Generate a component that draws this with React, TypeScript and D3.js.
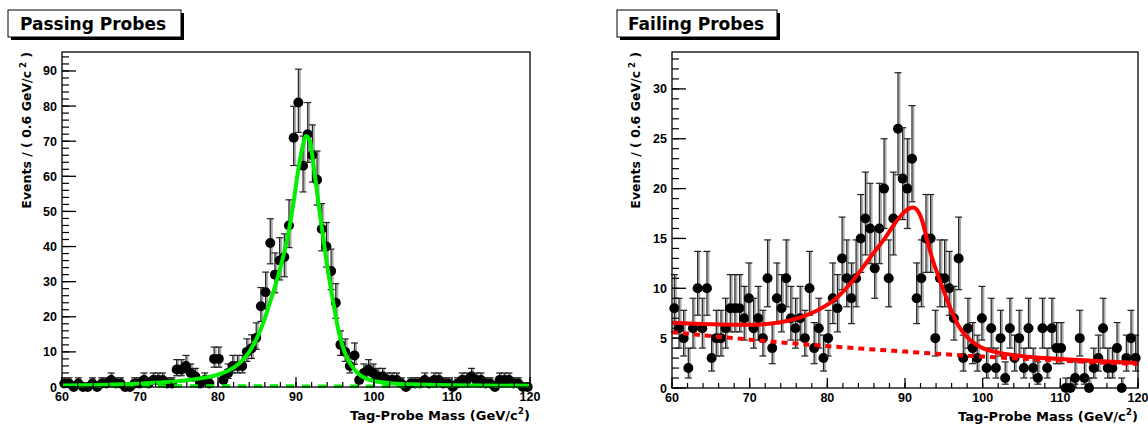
import React from 'react'
import * as d3 from 'd3'

// binning of both histograms: 100 bins of 0.6 GeV from 60 to 120
const binLo = 60
const binWidth = 0.6

// events per bin, passing probes
const passCounts = [
  1, 1, 0, 1, 0, 0, 1, 0, 1, 1,
  2, 1, 1, 0, 0, 1, 1, 2, 1, 2,
  2, 2, 1, 1, 5, 5, 6, 4, 3, 1,
  2, 1, 8, 8, 2, 4, 6, 6, 6, 10,
  11, 14, 23, 27, 41, 32, 36, 37, 46, 71,
  81, 63, 72, 66, 59, 45, 40, 33, 24, 12,
  10, 6, 9, 2, 4, 5, 4, 3, 3, 2,
  2, 2, 1, 0, 1, 1, 1, 2, 1, 2,
  2, 1, 1, 0, 1, 2, 2, 3, 2, 2,
  1, 1, 0, 2, 2, 2, 1, 1, 0, 0,
]

// events per bin, failing probes
const failCounts = [
  8, 6, 5, 2, 6, 10, 6, 10, 3, 5,
  5, 6, 8, 8, 8, 7, 9, 6, 7, 5,
  11, 4, 9, 8, 11, 7, 6, 7, 5, 10,
  4, 6, 3, 5, 9, 8, 13, 11, 9, 11,
  15, 17, 16, 12, 16, 20, 11, 17, 26, 21,
  20, 23, 9, 11, 15, 15, 5, 11, 11, 10,
  7, 13, 3, 6, 4, 3, 7, 2, 6, 2,
  5, 1, 6, 3, 5, 2, 6, 2, 1, 6,
  2, 6, 4, 4, 0, 0, 1, 5, 1, 0,
  2, 3, 6, 2, 2, 4, 0, 3, 5, 3,
]

// fitted curves: [mass, events]
const passFit: [number, number][] = [
  [60, 0.4], [65, 0.6], [70, 1.0], [74, 1.5], [77, 2.2], [80, 3.5], [82, 5.5],
  [83, 7.3], [84, 10], [85, 14], [86, 19.5], [86.5, 23], [87.5, 30], [88.4, 37.5],
  [89, 43.5], [89.65, 52], [90.3, 62], [90.8, 68], [91.3, 71.5], [91.8, 70],
  [92.2, 64], [92.9, 52], [93.4, 44], [93.9, 36], [94.4, 29], [94.9, 22.5],
  [95.5, 15.5], [96, 11.5], [96.5, 8.5], [97.5, 5], [98.2, 3.4], [99, 2.4],
  [100, 1.7], [102, 1.1], [105, 0.75], [110, 0.5], [120, 0.35],
]
const passBkg: [number, number][] = [[60, 0.3], [90, 0.25], [120, 0.2]]

const failFit: [number, number][] = [
  [60, 6.55], [65, 6.4], [70, 6.35], [74, 6.6], [77, 7.2], [79, 7.9], [81, 8.9],
  [83, 10.5], [84.2, 11.7], [86, 13.6], [87.4, 15], [88.5, 16.3], [89.5, 17.3],
  [90.3, 17.9], [91, 18.1], [91.6, 17.8], [92.2, 16.8], [92.8, 15], [93.5, 13],
  [94.4, 11], [95.2, 9.3], [96, 7.7], [97, 6.1], [98, 5.1], [99, 4.45], [100, 4.0],
  [102, 3.55], [104, 3.3], [108, 3.0], [112.5, 2.8], [116, 2.65], [120, 2.5],
]
const failBkg: [number, number][] = [
  [60, 5.6], [70, 4.85], [80, 4.2], [90, 3.65], [100, 3.15], [110, 2.75], [120, 2.4],
]

const xTicks = [60, 70, 80, 90, 100, 110, 120]
const passYTicks = [0, 10, 20, 30, 40, 50, 60, 70, 80, 90]
const failYTicks = [0, 5, 10, 15, 20, 25, 30]

const FONT = "'Liberation Sans', Arial, Helvetica, sans-serif"
const WIDE = "'DejaVu Sans', Verdana, sans-serif"

// poisson-ish asymmetric errors
const errUp = (n: number) => 0.5 + Math.sqrt(n + 0.25)
const errDn = (n: number) => (n === 0 ? 0 : Math.sqrt(n + 0.25) - 0.5)

type PanelProps = {
  x0: number; x1: number; yTop: number; yBot: number; yMax: number
  yTicks: number[]; yMinor: number
  counts: number[]; fit: [number, number][]; bkg: [number, number][]
  color: string; bkgDash: string; bkgWidth: number
  title: string; box: { x: number; y: number; w: number; h: number; tx: number }
  yTitleX: number
}

function Panel(p: PanelProps) {
  const x = d3.scaleLinear().domain([60, 120]).range([p.x0, p.x1])
  const y = d3.scaleLinear().domain([0, p.yMax]).range([p.yBot, p.yTop])
  const line = d3.line<[number, number]>()
    .x(d => x(d[0]))
    .y(d => y(d[1]))
    .curve(d3.curveMonotoneX)

  const xMinor = d3.range(0, 31).map(i => 60 + i * 2)
  const nMinor = Math.floor(p.yMax / p.yMinor)
  const yMinorTicks = d3.range(0, nMinor + 1).map(i => i * p.yMinor)
  const yTickLen = 14, yMinorLen = 7, xTickLen = 10, xMinorLen = 5

  return (
    <g>
      {/* title box */}
      <rect x={p.box.x + 3} y={p.box.y + 3} width={p.box.w} height={p.box.h} fill="#000" />
      <rect x={p.box.x} y={p.box.y} width={p.box.w} height={p.box.h} fill="#fff" stroke="#000" strokeWidth={1} />
      <text x={p.box.tx} y={p.box.y + 20} fontFamily={WIDE} fontSize={17} fontWeight="bold">{p.title}</text>

      {/* data */}
      {p.counts.map((n, i) => {
        const cx = x(binLo + binWidth * (i + 0.5))
        const top = y(n + errUp(n))
        const bot = y(n - errDn(n))
        return (
          <g key={i}>
            <line x1={cx + 1.5} x2={cx + 1.5} y1={top} y2={bot} stroke="#aaa" strokeWidth={2} />
            <line x1={cx} x2={cx} y1={top} y2={bot} stroke="#222" strokeWidth={1.2} />
            <line x1={cx - 3.5} x2={cx + 3.5} y1={top} y2={top} stroke="#222" strokeWidth={1.2} />
            {n > 0 && <line x1={cx - 3.5} x2={cx + 3.5} y1={bot} y2={bot} stroke="#222" strokeWidth={1.2} />}
            <circle cx={cx} cy={y(n)} r={5} fill="#000" />
          </g>
        )
      })}

      {/* fit */}
      <path d={line(p.bkg) || ''} fill="none" stroke={p.color} strokeWidth={p.bkgWidth} strokeDasharray={p.bkgDash} />
      <path d={line(p.fit) || ''} fill="none" stroke={p.color} strokeWidth={4} />

      {/* frame */}
      <rect x={p.x0} y={p.yTop} width={p.x1 - p.x0} height={p.yBot - p.yTop} fill="none" stroke="#000" strokeWidth={1.3} />

      {/* y axis */}
      {yMinorTicks.map(v => (
        <line key={'ym' + v} x1={p.x0} x2={p.x0 + yMinorLen} y1={y(v)} y2={y(v)} stroke="#000" strokeWidth={1.2} />
      ))}
      {p.yTicks.map(v => (
        <g key={'y' + v}>
          <line x1={p.x0} x2={p.x0 + yTickLen} y1={y(v)} y2={y(v)} stroke="#000" strokeWidth={1.3} />
          <text x={p.x0 - 5} y={y(v) + 4.5} textAnchor="end" fontFamily={FONT} fontSize={12.5} fontWeight="bold">{v}</text>
        </g>
      ))}

      {/* x axis */}
      {xMinor.map(v => (
        <line key={'xm' + v} x1={x(v)} x2={x(v)} y1={p.yBot} y2={p.yBot - xMinorLen} stroke="#000" strokeWidth={1.2} />
      ))}
      {xTicks.map(v => (
        <g key={'x' + v}>
          <line x1={x(v)} x2={x(v)} y1={p.yBot} y2={p.yBot - xTickLen} stroke="#000" strokeWidth={1.3} />
          <text x={x(v)} y={p.yBot + 14} textAnchor="middle" fontFamily={FONT} fontSize={12.5} fontWeight="bold">{v}</text>
        </g>
      ))}

      {/* axis titles */}
      <text x={p.x1} y={p.yBot + 33} textAnchor="end" fontFamily={WIDE} fontSize={13} fontWeight="bold">
        Tag-Probe Mass (GeV/c<tspan dy={-6} fontSize={9}>2</tspan><tspan dy={6}>)</tspan>
      </text>
      <text transform={`translate(${p.yTitleX},${p.yTop}) rotate(-90)`} textAnchor="end" fontFamily={WIDE} fontSize={12.5} fontWeight="bold">
        Events / ( 0.6 GeV/c<tspan dy={-5} fontSize={8.5}> 2</tspan><tspan dy={5}> )</tspan>
      </text>
    </g>
  )
}

export default function App() {
  return (
    <svg width={1148} height={424} style={{ position: 'absolute', left: 0, top: 0, background: '#fff' }}>
      <rect width={1148} height={424} fill="#fff" />
      <Panel
        x0={62} x1={530} yTop={52} yBot={387} yMax={95.4}
        yTicks={passYTicks} yMinor={2}
        counts={passCounts} fit={passFit} bkg={passBkg}
        color="#00f000" bkgDash="8,8" bkgWidth={3.5}
        title="Passing Probes" box={{ x: 8, y: 10, w: 173, h: 27, tx: 20 }}
        yTitleX={31}
      />
      <Panel
        x0={672} x1={1138} yTop={52} yBot={388} yMax={33.7}
        yTicks={failYTicks} yMinor={1}
        counts={failCounts} fit={failFit} bkg={failBkg}
        color="#ff0000" bkgDash="6,5" bkgWidth={4}
        title="Failing Probes" box={{ x: 617, y: 10, w: 160, h: 27, tx: 628 }}
        yTitleX={640}
      />
    </svg>
  )
}
